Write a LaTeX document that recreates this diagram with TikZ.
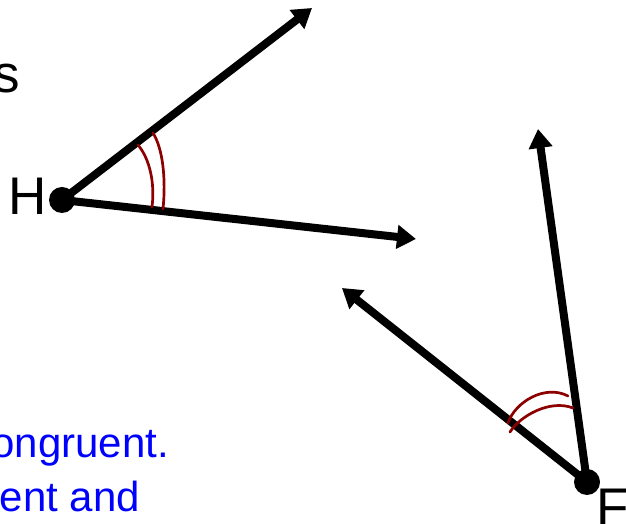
\documentclass[tikz,border=0pt]{standalone}
\usepackage{fontspec}
\setmainfont{Liberation Sans}
\usetikzlibrary{arrows.meta, positioning}
\definecolor{mydarkred}{RGB}{140,0,0}
\definecolor{myblue}{RGB}{0,0,255}
\tikzset{
	vertexdot/.style={circle, fill=black, inner sep=0pt, minimum size=26pt}
}
\tikzset{
	rayline/.style={line width=8pt, -{Triangle[length=19pt,width=23pt]}}
}
\tikzset{
	anglemark/.style={draw=mydarkred, line width=2.7pt, line cap=round}
}
\tikzset{
	bigtext/.style={font=\fontsize{53}{60}\selectfont, inner sep=0pt},
	bluetext/.style={font=\fontsize{42}{50}\selectfont, text=myblue, inner sep=0pt}
}

\begin{document}
\begin{tikzpicture}[x=1pt,y=1pt]
\useasboundingbox (0,0) rectangle (626,524);

\node[vertexdot] (H) at (62,324) {};
\node[vertexdot] (F) at (587,42) {};

\coordinate (hA) at (312,516);
\coordinate (hB) at (416,285);
\coordinate (fA) at (538,395);
\coordinate (fB) at (342,236);

\draw[rayline] (H.center) -- (hA);
\draw[rayline] (H.center) -- (hB);
\draw[rayline] (F.center) -- (fA);
\draw[rayline] (F.center) -- (fB);

% angle marks
\draw[anglemark] (138,379) .. controls (150,365) and (155,340) .. (152,317);
\draw[anglemark] (153,391) .. controls (163,375) and (166,345) .. (163,315);
\draw[anglemark] (508,101) .. controls (515,122) and (545,140) .. (568,128);
\draw[anglemark] (510,92) .. controls (520,108) and (550,125) .. (573,116);

\node[bigtext, anchor=base east] (labelH) at (47,309) {H};
\node[bigtext, anchor=base west] (labelF) at (596,-2) {F};
\node[bigtext, anchor=base east] (wordS) at (20,431) {s};

\node[bluetext, anchor=base east] (lineA) at (169,66) {ongruent.};
\node[bluetext, anchor=base east] (lineB) at (140,12) {ent and};

\end{tikzpicture}
\end{document}
